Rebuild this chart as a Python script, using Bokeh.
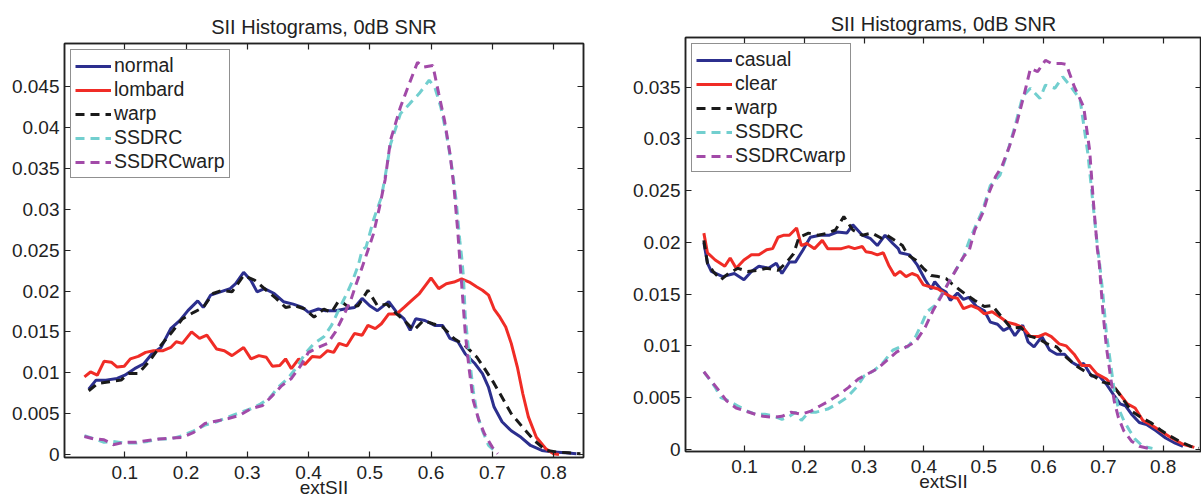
from bokeh.plotting import figure
from bokeh.models import (Range1d, LinearAxis, Legend, LegendItem, FixedTicker,
                          NumeralTickFormatter, CustomLabelingPolicy)
from bokeh.layouts import row
from bokeh.embed import file_html
from bokeh.resources import INLINE

FONT = "Liberation Sans"
TXT = "#222222"
FS_TICK = "19px"
FS_TITLE = "20px"
FS_LEG = "19.5px"

TITLE = "SII Histograms, 0dB SNR"
XLABEL = "extSII"
X_TICKS = [0.1, 0.2, 0.3, 0.4, 0.5, 0.6, 0.7, 0.8]
LEFT_Y_TICKS = [0, 0.005, 0.01, 0.015, 0.02, 0.025, 0.03, 0.035, 0.04, 0.045]
RIGHT_Y_TICKS = [0, 0.005, 0.01, 0.015, 0.02, 0.025, 0.03, 0.035]

LEFT_NAMES = ["normal", "lombard", "warp", "SSDRC", "SSDRCwarp"]
RIGHT_NAMES = ["casual", "clear", "warp", "SSDRC", "SSDRCwarp"]

# ---------------- left panel (x, y) ----------------
normal = [(0.041, 0.0080), (0.053, 0.0091), (0.069, 0.0091), (0.0875, 0.0093), (0.1, 0.0097),
          (0.116, 0.0105), (0.131, 0.0111), (0.144, 0.0123), (0.159, 0.0131), (0.175, 0.0154),
          (0.19, 0.0164), (0.203, 0.0176), (0.219, 0.0188), (0.228, 0.0180), (0.24, 0.0195),
          (0.256, 0.0199), (0.272, 0.0203), (0.281, 0.0209), (0.294, 0.0223), (0.306, 0.0213),
          (0.316, 0.0199), (0.328, 0.0203), (0.344, 0.0197), (0.359, 0.0187), (0.375, 0.0184),
          (0.39, 0.0180), (0.4, 0.0174), (0.416, 0.0178), (0.428, 0.0176), (0.444, 0.0176),
          (0.459, 0.0178), (0.475, 0.0180), (0.4875, 0.0191), (0.5, 0.0182), (0.5125, 0.0176),
          (0.531, 0.0187), (0.544, 0.0174), (0.556, 0.0166), (0.566, 0.0152), (0.575, 0.0166),
          (0.59, 0.0164), (0.606, 0.0158), (0.619, 0.0158), (0.631, 0.0142), (0.644, 0.0138),
          (0.656, 0.0123), (0.672, 0.0111), (0.684, 0.0099), (0.694, 0.0082), (0.703, 0.0058),
          (0.716, 0.0040), (0.731, 0.0029), (0.747, 0.0021), (0.7625, 0.0011), (0.781, 0.0005),
          (0.8, 0.0003), (0.819, 0.0002), (0.8375, 0.0001)]

lombard = [(0.034, 0.0095), (0.044, 0.0101), (0.055, 0.0097), (0.066, 0.0114), (0.078, 0.0113),
           (0.0875, 0.0107), (0.099, 0.0108), (0.109, 0.0117), (0.122, 0.0120), (0.134, 0.0125),
           (0.147, 0.0127), (0.1625, 0.0127), (0.175, 0.0131), (0.184, 0.0138), (0.194, 0.0136),
           (0.209, 0.0150), (0.222, 0.0142), (0.234, 0.0146), (0.25, 0.0129), (0.2625, 0.0127),
           (0.275, 0.0121), (0.294, 0.0131), (0.306, 0.0117), (0.319, 0.0121), (0.331, 0.0119),
           (0.341, 0.0108), (0.353, 0.0109), (0.3625, 0.0117), (0.372, 0.0105), (0.384, 0.0117),
           (0.394, 0.0110), (0.406, 0.0120), (0.419, 0.0119), (0.431, 0.0127), (0.441, 0.0125),
           (0.45, 0.0136), (0.4625, 0.0133), (0.475, 0.0148), (0.4875, 0.0146), (0.497, 0.0158),
           (0.509, 0.0154), (0.519, 0.0160), (0.531, 0.0172), (0.544, 0.0172), (0.556, 0.0180),
           (0.569, 0.0189), (0.581, 0.0197), (0.591, 0.0207), (0.6, 0.0216), (0.6125, 0.0203),
           (0.625, 0.0209), (0.6375, 0.0211), (0.65, 0.0215), (0.6625, 0.0211), (0.675, 0.0205),
           (0.684, 0.0201), (0.694, 0.0195), (0.703, 0.0178), (0.7125, 0.0168), (0.722, 0.0156),
           (0.731, 0.0136), (0.741, 0.0107), (0.75, 0.0074), (0.759, 0.0046), (0.772, 0.0021),
           (0.7875, 0.0007), (0.8, 0.0001), (0.809, 0.0)]

warp_l = [(0.041, 0.0078), (0.056, 0.0087), (0.075, 0.0089), (0.094, 0.0091), (0.106, 0.0099),
          (0.122, 0.0099), (0.141, 0.0115), (0.156, 0.0131), (0.175, 0.0148), (0.194, 0.0166),
          (0.2125, 0.0174), (0.228, 0.0180), (0.244, 0.0197), (0.259, 0.0201), (0.275, 0.0199),
          (0.294, 0.0219), (0.3125, 0.0213), (0.331, 0.0201), (0.347, 0.0191), (0.3625, 0.0180),
          (0.378, 0.0182), (0.394, 0.0178), (0.409, 0.0168), (0.425, 0.0178), (0.4375, 0.0174),
          (0.45, 0.0189), (0.466, 0.0180), (0.481, 0.0182), (0.497, 0.0201), (0.5125, 0.0182),
          (0.528, 0.0184), (0.544, 0.0172), (0.559, 0.0162), (0.572, 0.0152), (0.5875, 0.0164),
          (0.603, 0.0160), (0.619, 0.0156), (0.6375, 0.0142), (0.656, 0.0133), (0.675, 0.0119),
          (0.6875, 0.0105), (0.703, 0.0087), (0.719, 0.0066), (0.731, 0.0050), (0.75, 0.0033),
          (0.769, 0.0017), (0.7875, 0.0005), (0.806, 0.0003), (0.825, 0.0002), (0.844, 0.0001)]

ssdrc_l = [(0.034, 0.0023), (0.05, 0.0019), (0.066, 0.0015), (0.081, 0.0016), (0.1, 0.0014),
           (0.119, 0.0014), (0.1375, 0.0016), (0.156, 0.0019), (0.175, 0.0019), (0.194, 0.0023),
           (0.2125, 0.0029), (0.231, 0.0036), (0.25, 0.0040), (0.269, 0.0046), (0.2875, 0.0051),
           (0.306, 0.0056), (0.322, 0.0062), (0.3375, 0.0070), (0.35, 0.0082), (0.366, 0.0093),
           (0.381, 0.0107), (0.394, 0.0123), (0.409, 0.0136), (0.425, 0.0144), (0.4375, 0.0158),
           (0.45, 0.0178), (0.4625, 0.0197), (0.472, 0.0213), (0.481, 0.0231), (0.4875, 0.0250),
           (0.494, 0.0254), (0.506, 0.0287), (0.519, 0.0315), (0.525, 0.0340), (0.534, 0.0380),
           (0.55, 0.0417), (0.566, 0.0430), (0.581, 0.0442), (0.597, 0.0458), (0.606, 0.0450),
           (0.616, 0.0425), (0.625, 0.0393), (0.634, 0.0352), (0.641, 0.0311), (0.647, 0.0262),
           (0.65, 0.0242), (0.653, 0.0217), (0.656, 0.0168), (0.6625, 0.0119), (0.669, 0.0078),
           (0.675, 0.0050), (0.684, 0.0029), (0.694, 0.0011), (0.706, 0.0003)]

ssdrcwarp_l = [(0.034, 0.0022), (0.05, 0.0019), (0.066, 0.0018), (0.081, 0.0012), (0.1, 0.0015),
               (0.119, 0.0015), (0.1375, 0.0017), (0.156, 0.0019), (0.175, 0.0020), (0.194, 0.0021),
               (0.2125, 0.0027), (0.231, 0.0038), (0.25, 0.0041), (0.269, 0.0044), (0.2875, 0.0048),
               (0.306, 0.0056), (0.325, 0.0060), (0.341, 0.0072), (0.356, 0.0084), (0.372, 0.0093),
               (0.3875, 0.0109), (0.4, 0.0125), (0.416, 0.0131), (0.431, 0.0136), (0.444, 0.0150),
               (0.456, 0.0168), (0.469, 0.0189), (0.478, 0.0209), (0.4875, 0.0229), (0.497, 0.0250),
               (0.506, 0.0270), (0.516, 0.0303), (0.525, 0.0336), (0.534, 0.0385), (0.55, 0.0425),
               (0.5625, 0.0450), (0.578, 0.0480), (0.5875, 0.0474), (0.603, 0.0476), (0.6125, 0.0442),
               (0.622, 0.0409), (0.631, 0.0368), (0.6375, 0.0327), (0.644, 0.0270), (0.647, 0.0238),
               (0.65, 0.0209), (0.656, 0.0148), (0.6625, 0.0103), (0.669, 0.0066), (0.678, 0.0042),
               (0.6875, 0.0025), (0.7, 0.0009), (0.709, 0.0001)]

# ---------------- right panel (x, y) ----------------
casual = [(0.032, 0.0200), (0.038, 0.0180), (0.0445, 0.0172), (0.0636, 0.0167), (0.083, 0.0170),
          (0.099, 0.0164), (0.1115, 0.0172), (0.124, 0.0177), (0.14, 0.0175), (0.153, 0.0180),
          (0.1625, 0.0170), (0.175, 0.0181), (0.185, 0.0181), (0.198, 0.0193), (0.201, 0.0196),
          (0.21, 0.0205), (0.226, 0.0207), (0.242, 0.0207), (0.255, 0.0210), (0.271, 0.0209),
          (0.281, 0.0217), (0.297, 0.0207), (0.31, 0.0204), (0.322, 0.0197), (0.335, 0.0207),
          (0.348, 0.0199), (0.357, 0.0194), (0.36, 0.0190), (0.376, 0.0188), (0.389, 0.0178),
          (0.402, 0.0164), (0.412, 0.0155), (0.418, 0.0162), (0.428, 0.0155), (0.437, 0.0152),
          (0.444, 0.0144), (0.456, 0.0151), (0.466, 0.0145), (0.475, 0.0147), (0.488, 0.0138),
          (0.501, 0.0134), (0.511, 0.0123), (0.523, 0.0121), (0.533, 0.0115), (0.543, 0.0118),
          (0.552, 0.0110), (0.565, 0.0120), (0.574, 0.0104), (0.584, 0.0099), (0.597, 0.0109),
          (0.61, 0.0096), (0.622, 0.0092), (0.635, 0.0092), (0.648, 0.0084), (0.657, 0.0081),
          (0.667, 0.0083), (0.68, 0.0071), (0.693, 0.0071), (0.705, 0.0063), (0.718, 0.0052),
          (0.728, 0.0044), (0.737, 0.0042), (0.747, 0.0034), (0.76, 0.0026), (0.772, 0.0024),
          (0.788, 0.0018), (0.804, 0.0011), (0.82, 0.0006), (0.833, 0.0003)]

clear = [(0.032, 0.0209), (0.038, 0.0190), (0.051, 0.0183), (0.067, 0.0177), (0.076, 0.0185),
         (0.086, 0.0175), (0.099, 0.0183), (0.1115, 0.0188), (0.124, 0.0188), (0.137, 0.0193),
         (0.147, 0.0194), (0.156, 0.0205), (0.166, 0.0207), (0.175, 0.0207), (0.187, 0.0214),
         (0.195, 0.0197), (0.204, 0.0199), (0.217, 0.0194), (0.23, 0.0202), (0.239, 0.0194),
         (0.252, 0.0194), (0.262, 0.0194), (0.274, 0.0196), (0.284, 0.0194), (0.297, 0.0196),
         (0.303, 0.0191), (0.313, 0.0190), (0.322, 0.0188), (0.332, 0.0190), (0.341, 0.0178),
         (0.351, 0.0168), (0.36, 0.0172), (0.37, 0.0167), (0.38, 0.0170), (0.389, 0.0168),
         (0.399, 0.0159), (0.412, 0.0157), (0.424, 0.0155), (0.434, 0.0151), (0.447, 0.0147),
         (0.456, 0.0146), (0.466, 0.0136), (0.479, 0.0139), (0.491, 0.0136), (0.501, 0.0131),
         (0.514, 0.0133), (0.527, 0.0128), (0.539, 0.0123), (0.552, 0.0121), (0.565, 0.0118),
         (0.578, 0.0109), (0.591, 0.0109), (0.603, 0.0112), (0.613, 0.0109), (0.626, 0.0102),
         (0.638, 0.0100), (0.651, 0.0092), (0.664, 0.0081), (0.677, 0.0081), (0.689, 0.0073),
         (0.705, 0.0068), (0.718, 0.0060), (0.728, 0.0053), (0.74, 0.0044), (0.753, 0.0040),
         (0.766, 0.0028), (0.779, 0.0024), (0.795, 0.0018), (0.814, 0.0011), (0.833, 0.0005),
         (0.852, 0.0002)]

warp_r = [(0.032, 0.0202), (0.038, 0.0180), (0.0475, 0.0172), (0.0605, 0.0164), (0.073, 0.0170),
          (0.089, 0.0175), (0.105, 0.0172), (0.121, 0.0173), (0.137, 0.0175), (0.156, 0.0173),
          (0.169, 0.0180), (0.182, 0.0189), (0.191, 0.0205), (0.207, 0.0209), (0.223, 0.0207),
          (0.239, 0.0209), (0.252, 0.0212), (0.266, 0.0225), (0.281, 0.0212), (0.297, 0.0207),
          (0.313, 0.0209), (0.329, 0.0204), (0.338, 0.0207), (0.351, 0.0202), (0.364, 0.0197),
          (0.373, 0.0188), (0.386, 0.0183), (0.399, 0.0175), (0.412, 0.0168), (0.424, 0.0167),
          (0.437, 0.0165), (0.447, 0.0160), (0.46, 0.0154), (0.472, 0.0149), (0.485, 0.0144),
          (0.501, 0.0138), (0.514, 0.0139), (0.53, 0.0128), (0.546, 0.0117), (0.562, 0.0118),
          (0.574, 0.0110), (0.591, 0.0107), (0.606, 0.0102), (0.622, 0.0099), (0.638, 0.0089),
          (0.654, 0.0081), (0.67, 0.0075), (0.686, 0.0070), (0.699, 0.0065), (0.715, 0.0063),
          (0.731, 0.0050), (0.747, 0.0037), (0.763, 0.0031), (0.779, 0.0026), (0.795, 0.0019),
          (0.811, 0.0013), (0.827, 0.0008), (0.846, 0.0003), (0.859, 0.0001)]

ssdrc_r = [(0.032, 0.0075), (0.041, 0.0068), (0.051, 0.0060), (0.0605, 0.0050), (0.073, 0.0047),
           (0.089, 0.0042), (0.105, 0.0037), (0.118, 0.0034), (0.134, 0.0034), (0.15, 0.0032),
           (0.1625, 0.0029), (0.175, 0.0032), (0.185, 0.0036), (0.195, 0.0028), (0.207, 0.0036),
           (0.22, 0.0036), (0.239, 0.0039), (0.255, 0.0044), (0.271, 0.0050), (0.287, 0.0060),
           (0.3, 0.0071), (0.316, 0.0076), (0.332, 0.0084), (0.348, 0.0096), (0.364, 0.0100),
           (0.373, 0.0099), (0.386, 0.0109), (0.396, 0.0121), (0.405, 0.0133), (0.418, 0.0139),
           (0.431, 0.0151), (0.444, 0.0164), (0.453, 0.0173), (0.466, 0.0186), (0.476, 0.0202),
           (0.488, 0.0218), (0.498, 0.0231), (0.511, 0.0255), (0.527, 0.0265), (0.539, 0.0286),
           (0.552, 0.0312), (0.565, 0.0341), (0.578, 0.0349), (0.594, 0.0339), (0.603, 0.0352),
           (0.619, 0.0349), (0.632, 0.0360), (0.645, 0.0351), (0.661, 0.0338), (0.674, 0.0286),
           (0.683, 0.0235), (0.69, 0.0196), (0.693, 0.0183), (0.699, 0.0151), (0.705, 0.0112),
           (0.712, 0.0083), (0.718, 0.0057), (0.725, 0.0040), (0.734, 0.0028), (0.744, 0.0018),
           (0.753, 0.0010), (0.766, 0.0003), (0.782, 0.0001)]

ssdrcwarp_r = [(0.032, 0.0075), (0.0445, 0.0066), (0.057, 0.0057), (0.07, 0.0047), (0.086, 0.0040),
               (0.102, 0.0037), (0.118, 0.0034), (0.131, 0.0032), (0.147, 0.0031), (0.1625, 0.0032),
               (0.178, 0.0036), (0.195, 0.0034), (0.211, 0.0037), (0.226, 0.0042), (0.242, 0.0047),
               (0.258, 0.0053), (0.274, 0.0060), (0.29, 0.0068), (0.306, 0.0073), (0.322, 0.0078),
               (0.338, 0.0086), (0.354, 0.0094), (0.37, 0.0099), (0.386, 0.0104), (0.402, 0.0118),
               (0.415, 0.0134), (0.428, 0.0147), (0.44, 0.0160), (0.453, 0.0173), (0.466, 0.0186),
               (0.476, 0.0193), (0.485, 0.0212), (0.498, 0.0228), (0.508, 0.0247), (0.52, 0.0264),
               (0.53, 0.0273), (0.543, 0.0293), (0.555, 0.0315), (0.568, 0.0344), (0.578, 0.0368),
               (0.59, 0.0365), (0.603, 0.0376), (0.613, 0.0373), (0.629, 0.0373), (0.638, 0.0372),
               (0.651, 0.0351), (0.667, 0.0331), (0.677, 0.0289), (0.683, 0.0241), (0.69, 0.0193),
               (0.693, 0.0180), (0.699, 0.0134), (0.705, 0.0099), (0.712, 0.0070), (0.718, 0.0047),
               (0.725, 0.0031), (0.734, 0.0018), (0.747, 0.0008), (0.76, 0.0003), (0.776, 0.0001)]

COLORS = ["#2c2f8e", "#f02c26", "#1a1a1a", "#72cfcf", "#a24aa8"]
DASHES = ["solid", "solid", "9 6", "9 6", "9 6"]

HIDE_LABELS = """
try {
  const all = [];
  for (const i of indices) all.push(i);
  for (const i of all) indices.unset(i);
} catch (e) {}
return indices;
"""


def panel(series, names, yticks, xr, yr, width, height, borders, title_standoff):
    p = figure(width=width, height=height, x_range=Range1d(*xr), y_range=Range1d(*yr),
               output_backend="svg", toolbar_location=None,
               min_border_left=borders[0], min_border_right=borders[1],
               min_border_top=borders[2], min_border_bottom=borders[3])
    p.frame_align = False
    p.background_fill_color = "white"
    p.border_fill_color = "white"
    p.outline_line_color = TXT
    p.outline_line_width = 1.5
    p.grid.visible = False
    p.title.text = TITLE
    p.title.align = "center"
    p.title.text_font = FONT
    p.title.text_font_size = FS_TITLE
    p.title.text_font_style = "normal"
    p.title.text_color = TXT
    p.title.standoff = title_standoff

    xt = FixedTicker(ticks=X_TICKS)
    yt = FixedTicker(ticks=yticks)
    fmt = NumeralTickFormatter(format="0.[000]")
    for ax, t in ((p.xaxis[0], xt), (p.yaxis[0], yt)):
        ax.ticker = t
        ax.formatter = fmt
        ax.major_tick_in = 6
        ax.major_tick_out = 0
        ax.minor_tick_line_color = None
        ax.axis_line_color = TXT
        ax.axis_line_width = 1.5
        ax.major_tick_line_color = TXT
        ax.major_tick_line_width = 1.2
        ax.major_label_text_font = FONT
        ax.major_label_text_font_size = FS_TICK
        ax.major_label_text_color = TXT
    p.yaxis.major_label_standoff = 5
    p.xaxis.major_label_standoff = 8
    p.xaxis.axis_label = XLABEL
    p.xaxis.axis_label_text_font = FONT
    p.xaxis.axis_label_text_font_size = FS_TICK
    p.xaxis.axis_label_text_font_style = "normal"
    p.xaxis.axis_label_text_color = TXT
    p.xaxis.axis_label_standoff = -5

    for loc, t in (("above", xt), ("right", yt)):
        ax = LinearAxis(ticker=t, major_tick_in=6, major_tick_out=0,
                        minor_tick_line_color=None, axis_line_color=TXT,
                        axis_line_width=1.5, major_tick_line_color=TXT,
                        major_tick_line_width=1.2, major_label_text_font_size="0px",
                        major_label_standoff=0,
                        major_label_policy=CustomLabelingPolicy(code=HIDE_LABELS))
        p.add_layout(ax, loc)

    items = []
    for data, name, c, d in zip(series, names, COLORS, DASHES):
        xs = [a for a, b in data]
        ys = [b for a, b in data]
        r = p.line(xs, ys, line_color=c, line_width=3, line_dash=d)
        items.append(LegendItem(label=name, renderers=[r]))
    leg = Legend(items=items, location="top_left", margin=6, padding=4, spacing=1,
                 glyph_width=36, glyph_height=20, label_height=20, label_standoff=3,
                 label_text_font=FONT, label_text_font_size=FS_LEG,
                 label_text_color=TXT, border_line_color=TXT, border_line_width=1.5,
                 background_fill_color="white", background_fill_alpha=1.0)
    p.add_layout(leg)
    return p


p1 = panel([normal, lombard, warp_l, ssdrc_l, ssdrcwarp_l], LEFT_NAMES, LEFT_Y_TICKS,
           (0.0015, 0.849), (-0.00037, 0.0503), 600, 501, (64, 17, 43, 44), 11)
p2 = panel([casual, clear, warp_r, ssdrc_r, ssdrcwarp_r], RIGHT_NAMES, RIGHT_Y_TICKS,
           (0.0013, 0.864), (-0.0002, 0.0398), 601, 501, (85, 0, 37, 50), 6)

layout = row(p1, p2)
open("out.html", "w").write(file_html(layout, INLINE))
